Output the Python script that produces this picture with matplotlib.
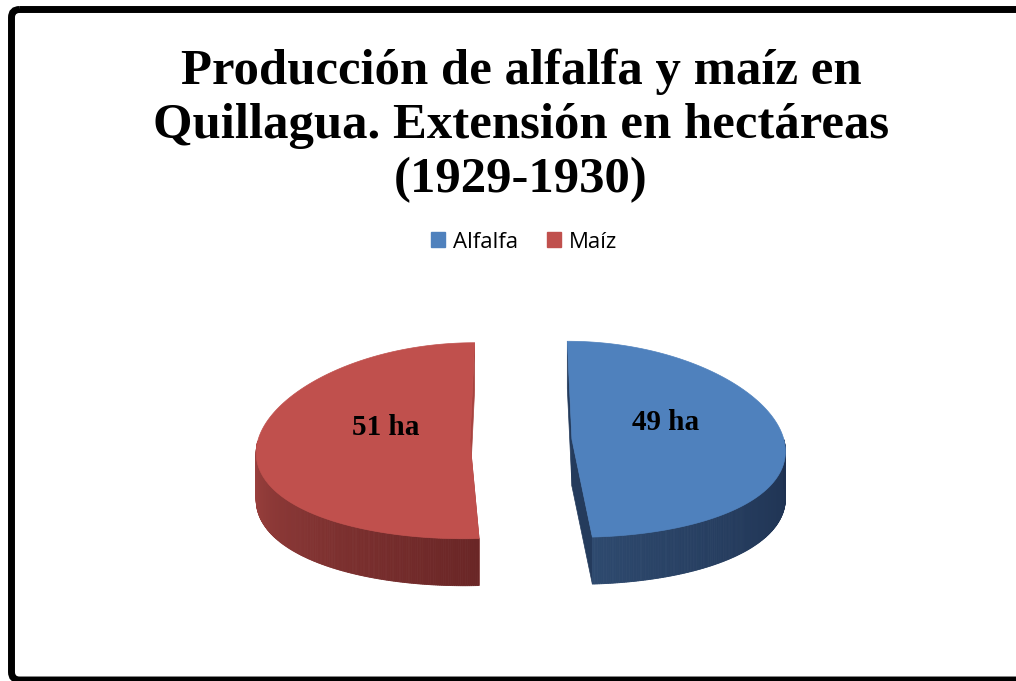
import numpy as np
import matplotlib.pyplot as plt
from matplotlib.patches import Polygon, Patch, FancyBboxPatch
from matplotlib.colors import to_rgb

categories = ["Alfalfa", "Maíz"]
hectares = [49, 51]
value_labels = ["49 ha", "51 ha"]
top_colors = ["#4F81BD", "#C0504D"]
wall_light = ["#2E4A6F", "#A34542"]
wall_dark = ["#1E3150", "#6A2626"]
inner_colors = ["#243B5C", "#A8433F"]
title = "Producción de alfalfa y maíz en\nQuillagua. Extensión en hectáreas\n(1929-1930)"

W, H = 1016, 681
fig = plt.figure(figsize=(W / 100, H / 100), dpi=100)
ax = fig.add_axes([0, 0, 1, 1])
ax.set_xlim(0, W)
ax.set_ylim(H, 0)
ax.axis("off")

# 3D pie geometry (pixels)
cx, cy = 521, 440
rx, ry = 212, 98
depth = 47
explode = 51
persp = 0.1


def project(X, Y, z=0.0):
    # X: horizontal offset from centre, Y: offset towards the back (up on screen)
    s = 1.0 / (1.0 + persp * Y / ry)
    return cx + X * s, cy - Y + z


def mix(c1, c2, t):
    a, b = np.array(to_rgb(c1)), np.array(to_rgb(c2))
    return tuple(a + (b - a) * t)


total = sum(hectares)
start = 90.0
for i, val in enumerate(hectares):
    a0 = start
    a1 = start - val / total * 360.0
    start = a1
    mid = np.radians((a0 + a1) / 2)
    ox = explode * np.cos(mid)
    oy = explode * np.sin(mid) * ry / rx

    def pt(a, z=0.0, r=1.0):
        return project(ox + r * rx * np.cos(a), oy + r * ry * np.sin(a), z)

    centre = project(ox, oy)
    centre_b = project(ox, oy, depth)

    # inner (radial) faces
    for a in (np.radians(a0), np.radians(a1)):
        quad = [centre, pt(a), pt(a, depth), centre_b]
        ax.add_patch(Polygon(quad, closed=True, fc=inner_colors[i],
                             ec=inner_colors[i], lw=0.5))

    # outer wall, only front half visible
    angs = np.radians(np.linspace(a1, a0, 400))
    vis = angs[np.sin(angs) <= 0]
    if len(vis) > 1:
        for k in range(len(vis) - 1):
            t = k / (len(vis) - 2)
            col = mix(wall_light[i], wall_dark[i], t ** 0.8)
            quad = [pt(vis[k]), pt(vis[k + 1]),
                    pt(vis[k + 1], depth), pt(vis[k], depth)]
            ax.add_patch(Polygon(quad, closed=True, fc=col, ec=col, lw=0.6))

    # top face
    top = [centre] + [pt(a) for a in np.radians(np.linspace(a0, a1, 300))]
    ax.add_patch(Polygon(top, closed=True, fc=top_colors[i],
                         ec=top_colors[i], lw=0.5))

    lx, ly = pt(mid, 0, 0.42)
    ax.text(lx + 5, ly - 15, value_labels[i], ha="center", va="center",
            fontsize=21, fontweight="bold", family="Liberation Serif")

ax.text(521, 126, title, ha="center", va="center", fontsize=36.5,
        fontweight="bold", family="Liberation Serif", linespacing=1.22)

handles = [Patch(fc=c, ec=c, label=l) for c, l in zip(top_colors, categories)]
ax.legend(handles=handles, loc="center", bbox_to_anchor=(524 / W, 1 - 242 / H),
          ncol=2, frameon=False, handlelength=0.65,
          handleheight=0.65, handletextpad=0.35, columnspacing=1.3,
          prop={"family": "Open Sans", "size": 16})

ax.add_patch(FancyBboxPatch((11.5, 9.5), 1030, 670.5,
                            boxstyle="round,pad=0,rounding_size=8",
                            fc="none", ec="black", lw=5, clip_on=False))

fig.savefig("out.png", dpi=100)
